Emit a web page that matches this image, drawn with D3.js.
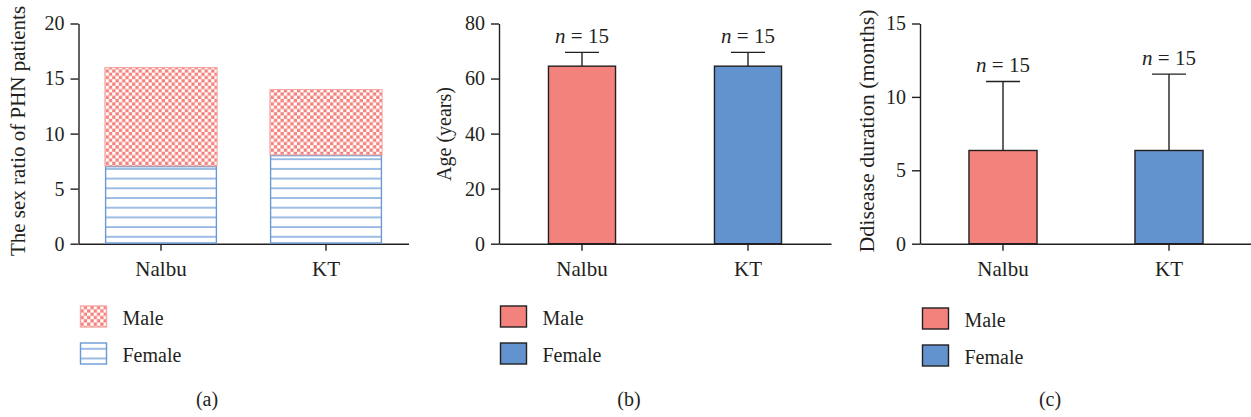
<!DOCTYPE html>
<html>
<head>
<meta charset="utf-8">
<script src="https://cdn.jsdelivr.net/npm/d3@7"></script>
<style>
    body { margin: 0; background: #fff; }
    .axis path, .axis line { stroke: #231f20; stroke-width: 1.4; }
</style>
</head>
<body>
<div id="chart"></div>
<script>
// Data
const groups = ['Nalbu', 'KT'];
const femaleCount = [7, 8];
const maleCount = [9, 6];
const ageMean = [64.5, 64.5];
const ageSD = [5, 5];
const durationMean = [6.35, 6.35];
const durationSD = [4.7, 5.2];
const nLabels = ['15', '15'];
const ticksA = [0, 5, 10, 15, 20];
const ticksB = [0, 20, 40, 60, 80];
const ticksC = [0, 5, 10, 15];
const legendItems = ['Male', 'Female'];

const W = 1251, H = 417;
const FONT = "'Liberation Serif', 'Times New Roman', serif";
const RED = '#f3827d', BLUE = '#6393cf', LINE_BLUE = '#6a9ad6', DARK = '#231f20';
const y0 = 243.7, yTop = 23.5;

const svg = d3.select('#chart').append('svg')
    .attr('width', W)
    .attr('height', H)
    .attr('font-family', FONT);

// Patterns for panel (a)
const defs = svg.append('defs');
const checker = defs.append('pattern')
    .attr('id', 'checker')
    .attr('patternUnits', 'userSpaceOnUse')
    .attr('width', 6.6).attr('height', 6.6);
checker.append('rect').attr('width', 6.6).attr('height', 6.6).attr('fill', RED);
checker.append('rect').attr('width', 3.3).attr('height', 3.3).attr('fill', '#fff');
checker.append('rect').attr('x', 3.3).attr('y', 3.3).attr('width', 3.3).attr('height', 3.3).attr('fill', '#fff');

const hlines = defs.append('pattern')
    .attr('id', 'hlines')
    .attr('patternUnits', 'userSpaceOnUse')
    .attr('width', 20).attr('height', 9.7)
    .attr('y', 3);
hlines.append('rect').attr('width', 20).attr('height', 9.7).attr('fill', '#fff');
hlines.append('line')
    .attr('x1', 0).attr('x2', 20).attr('y1', 1).attr('y2', 1)
    .attr('stroke', LINE_BLUE).attr('stroke-width', 1.3);

function txt(sel, size) {
    return sel.style('font-family', FONT).style('font-size', size + 'px').style('fill', DARK);
}

function makePanel(cfg) {
    const g = svg.append('g');

    const x = d3.scaleBand()
        .domain(groups)
        .range(cfg.xRange)
        .paddingInner(cfg.pInner)
        .paddingOuter(cfg.pOuter);

    const y = d3.scaleLinear()
        .domain(cfg.yDomain)
        .range([y0, yTop]);

    const yAxis = g.append('g')
        .attr('class', 'axis')
        .attr('transform', `translate(${cfg.xRange[0]},0)`)
        .call(d3.axisLeft(y).tickValues(cfg.ticks).tickSize(8).tickPadding(6).tickSizeOuter(0));
    txt(yAxis.selectAll('text'), 20);

    const xAxis = g.append('g')
        .attr('class', 'axis')
        .attr('transform', `translate(0,${y0})`)
        .call(d3.axisBottom(x).tickSize(7).tickPadding(10).tickSizeOuter(0));
    txt(xAxis.selectAll('text'), 21);

    txt(g.append('text'), cfg.labelSize)
        .attr('transform', `translate(${cfg.labelX},${cfg.labelY}) rotate(-90)`)
        .attr('text-anchor', 'middle')
        .text(cfg.yLabel);

    txt(g.append('text'), 20)
        .attr('x', cfg.capX)
        .attr('y', 406)
        .attr('text-anchor', 'middle')
        .text(cfg.caption);

    return { g, x, y };
}

// Panel (a): stacked bars
const a = makePanel({
    xRange: [78.5, 408.5], pInner: 0.32, pOuter: 0.16,
    yDomain: [0, 20], ticks: ticksA,
    yLabel: 'The sex ratio of PHN patients', labelX: 25, labelY: 131, labelSize: 21,
    caption: '(a)', capX: 207
});

a.g.selectAll('.female')
    .data(groups)
    .enter().append('rect')
    .attr('x', d => a.x(d) + 0.7)
    .attr('y', (d, i) => a.y(femaleCount[i]))
    .attr('width', a.x.bandwidth() - 1.4)
    .attr('height', (d, i) => a.y(0) - a.y(femaleCount[i]) - 0.7)
    .attr('fill', 'url(#hlines)')
    .attr('stroke', LINE_BLUE)
    .attr('stroke-width', 1.4);

a.g.selectAll('.male')
    .data(groups)
    .enter().append('rect')
    .attr('x', d => a.x(d))
    .attr('y', (d, i) => a.y(femaleCount[i] + maleCount[i]))
    .attr('width', a.x.bandwidth())
    .attr('height', (d, i) => a.y(femaleCount[i]) - a.y(femaleCount[i] + maleCount[i]) - 0.7)
    .attr('fill', 'url(#checker)')
    .attr('stroke', '#f6a5a1')
    .attr('stroke-width', 1);

// Panels (b) and (c): bars with SD
function barPanel(p, means, sds, capHalf) {
    const fills = [RED, BLUE];
    p.g.selectAll('.err')
        .data(groups)
        .enter().append('line')
        .attr('x1', d => p.x(d) + p.x.bandwidth() / 2)
        .attr('x2', d => p.x(d) + p.x.bandwidth() / 2)
        .attr('y1', (d, i) => p.y(means[i]))
        .attr('y2', (d, i) => p.y(means[i] + sds[i]))
        .attr('stroke', DARK).attr('stroke-width', 1.4);
    p.g.selectAll('.cap')
        .data(groups)
        .enter().append('line')
        .attr('x1', d => p.x(d) + p.x.bandwidth() / 2 - capHalf)
        .attr('x2', d => p.x(d) + p.x.bandwidth() / 2 + capHalf)
        .attr('y1', (d, i) => p.y(means[i] + sds[i]))
        .attr('y2', (d, i) => p.y(means[i] + sds[i]))
        .attr('stroke', DARK).attr('stroke-width', 1.4);
    p.g.selectAll('.bar')
        .data(groups)
        .enter().append('rect')
        .attr('x', d => p.x(d))
        .attr('y', (d, i) => p.y(means[i]))
        .attr('width', p.x.bandwidth())
        .attr('height', (d, i) => p.y(0) - p.y(means[i]))
        .attr('fill', (d, i) => fills[i])
        .attr('stroke', DARK).attr('stroke-width', 1.4);
    const lab = txt(p.g.selectAll('.nlab')
        .data(groups)
        .enter().append('text'), 21)
        .attr('x', d => p.x(d) + p.x.bandwidth() / 2)
        .attr('y', (d, i) => p.y(means[i] + sds[i]) - 9.5)
        .attr('text-anchor', 'middle');
    lab.append('tspan').style('font-style', 'italic').text('n');
    lab.append('tspan').text((d, i) => ' = ' + nLabels[i]);
}

const b = makePanel({
    xRange: [499, 831], pInner: 0.596, pOuter: 0.298,
    yDomain: [0, 80], ticks: ticksB,
    yLabel: 'Age (years)', labelX: 451, labelY: 134, labelSize: 20,
    caption: '(b)', capX: 629
});
barPanel(b, ageMean, ageSD, 17);

const c = makePanel({
    xRange: [920, 1252], pInner: 0.59, pOuter: 0.295,
    yDomain: [0, 15], ticks: ticksC,
    yLabel: 'Ddisease duration (months)', labelX: 874, labelY: 131, labelSize: 22,
    caption: '(c)', capX: 1050
});
barPanel(c, durationMean, durationSD, 17);

// Legends
function legend(x0, yStart, fills, strokes) {
    const lg = svg.append('g').attr('transform', `translate(${x0},${yStart})`);
    legendItems.forEach((name, i) => {
        lg.append('rect')
            .attr('x', 0).attr('y', i * 37)
            .attr('width', 26).attr('height', 21)
            .attr('fill', fills[i])
            .attr('stroke', strokes[i]).attr('stroke-width', 1.4);
        txt(lg.append('text'), 20)
            .attr('x', 42).attr('y', i * 37 + 19)
            .text(name);
    });
}
legend(80.5, 306, ['url(#checker)', 'url(#hlines)'], ['#f6a5a1', LINE_BLUE]);
legend(500.5, 306, [RED, BLUE], [DARK, DARK]);
legend(922.5, 308, [RED, BLUE], [DARK, DARK]);
</script>
</body>
</html>
